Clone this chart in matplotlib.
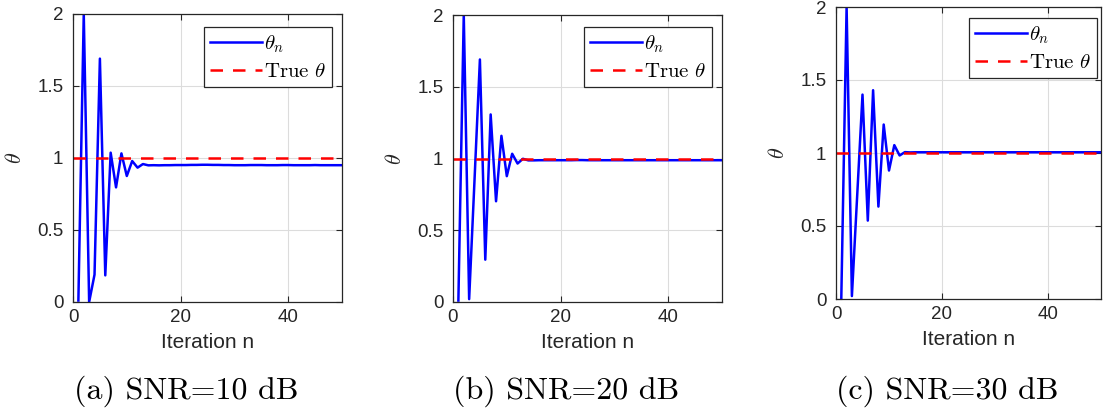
import matplotlib
matplotlib.use("Agg")
import matplotlib.pyplot as plt
import numpy as np

plt.rcParams['font.family'] = ['Liberation Sans', 'DejaVu Sans']
plt.rcParams['mathtext.fontset'] = 'cm'

iterations = list(range(1, 51))
true_theta = 1.0

theta_snr10 = [0.01, 2.0, 0.0, 0.19, 1.69, 0.185, 1.037, 0.796, 1.032, 0.875,
               0.979, 0.933, 0.958, 0.949, 0.950, 0.949, 0.950, 0.950, 0.951, 0.951,
               0.951, 0.952, 0.952, 0.953, 0.953, 0.952, 0.952, 0.951, 0.951, 0.950,
               0.950, 0.950, 0.951, 0.951, 0.951, 0.950, 0.950, 0.950, 0.951, 0.951,
               0.950, 0.950, 0.950, 0.950, 0.951, 0.950, 0.950, 0.950, 0.950, 0.950]
theta_snr20 = [0.01, 2.0, 0.02, 0.85, 1.69, 0.295, 1.307, 0.702, 1.158, 0.877,
               1.033, 0.965, 0.998, 0.987, 0.987, 0.988, 0.988, 0.988, 0.988, 0.988,
               0.988, 0.988, 0.989, 0.989, 0.988, 0.988, 0.988, 0.988, 0.988, 0.988,
               0.988, 0.988, 0.988, 0.988, 0.988, 0.988, 0.988, 0.988, 0.988, 0.988,
               0.988, 0.988, 0.988, 0.988, 0.988, 0.988, 0.988, 0.988, 0.988, 0.988]
theta_snr30 = [0.005, 2.0, 0.02, 0.71, 1.40, 0.537, 1.43, 0.633, 1.195, 0.88,
               1.054, 0.983, 1.006, 1.004, 1.005, 1.005, 1.005, 1.005, 1.005, 1.005,
               1.005, 1.005, 1.005, 1.005, 1.005, 1.005, 1.005, 1.005, 1.005, 1.005,
               1.005, 1.005, 1.005, 1.005, 1.005, 1.005, 1.005, 1.005, 1.005, 1.005,
               1.005, 1.005, 1.005, 1.005, 1.005, 1.005, 1.005, 1.005, 1.005, 1.005]

series = [theta_snr10, theta_snr20, theta_snr30]
captions = ['(a) SNR=10 dB', '(b) SNR=20 dB', '(c) SNR=30 dB']
xticks = [0, 20, 40]
yticks = [0, 0.5, 1, 1.5, 2]
ytick_labels = ['0', '0.5', '1', '1.5', '2']

W, H = 1111, 412
fig = plt.figure(figsize=(W / 100, H / 100), dpi=100)

# pixel boxes: (left, top, right, bottom)
boxes = [(73, 14, 342, 302), (453, 15, 722, 302), (836, 7, 1101, 299)]
legend_boxes = [(332, 27), (712, 27), (1097, 18)]

dark = '#262626'
for i, (vals, cap, box, lb) in enumerate(zip(series, captions, boxes, legend_boxes)):
    l, t, r, b = box
    ax = fig.add_axes([l / W, 1 - b / H, (r - l) / W, (b - t) / H])
    ax.plot(iterations, vals, color='#0000ff', lw=1.8, label=r'$\theta_n$')
    ax.axhline(true_theta, color='#ff0000', lw=1.8, ls=(0, (5, 4)), label=r'$\mathrm{True}\ \theta$')
    ax.set_xlim(0, 50)
    ax.set_ylim(0, 2)
    ax.set_xticks(xticks)
    ax.set_yticks(yticks)
    ax.set_yticklabels(ytick_labels)
    ax.grid(True, color='#dcdcdc', lw=0.8)
    ax.set_axisbelow(True)
    ax.tick_params(direction='in', top=True, right=True, labelsize=13.5, colors=dark,
                   length=4, width=0.8, pad=5)
    ax.tick_params(axis='y', pad=7)
    for s in ax.spines.values():
        s.set_color(dark)
        s.set_linewidth(0.9)
    ax.set_xlabel('Iteration n', fontsize=15, color=dark, labelpad=5)
    ax.set_ylabel(r'$\theta$', fontsize=16, color=dark, labelpad=8)
    leg = ax.legend(loc='upper right', bbox_to_anchor=(lb[0] / W, 1 - lb[1] / H),
                    bbox_transform=fig.transFigure, fontsize=15, handlelength=2.5,
                    handletextpad=0.1, borderpad=0.3, labelspacing=0.35,
                    fancybox=False, framealpha=1, borderaxespad=0)
    leg.get_frame().set_edgecolor(dark)
    leg.get_frame().set_linewidth(0.9)
    fig.text(((l + r) / 2 - 21) / W, 1 - 391 / H, cap, fontsize=23, family='cmr10',
             ha='center', va='center', color='black')

fig.savefig('out.png', dpi=100)
